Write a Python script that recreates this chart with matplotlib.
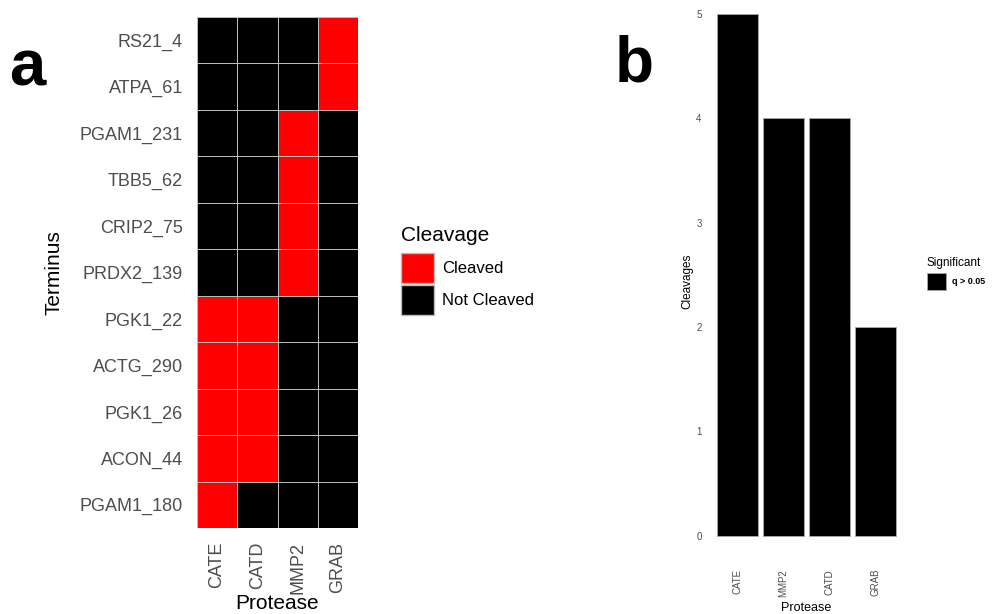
import numpy as np
import matplotlib.pyplot as plt
from matplotlib.colors import ListedColormap
from matplotlib.patches import Patch

plt.rcParams['font.family'] = ['Liberation Sans', 'DejaVu Sans']

# heatmap data (rows top to bottom)
termini = ['RS21_4', 'ATPA_61', 'PGAM1_231', 'TBB5_62', 'CRIP2_75', 'PRDX2_139',
           'PGK1_22', 'ACTG_290', 'PGK1_26', 'ACON_44', 'PGAM1_180']
proteases = ['CATE', 'CATD', 'MMP2', 'GRAB']
cleaved = [
    [0, 0, 0, 1],
    [0, 0, 0, 1],
    [0, 0, 1, 0],
    [0, 0, 1, 0],
    [0, 0, 1, 0],
    [0, 0, 1, 0],
    [1, 1, 0, 0],
    [1, 1, 0, 0],
    [1, 1, 0, 0],
    [1, 1, 0, 0],
    [1, 0, 0, 0],
]

# bar data
bar_proteases = ['CATE', 'MMP2', 'CATD', 'GRAB']
bar_counts = [5, 4, 4, 2]

W, H = 1002, 614
fig = plt.figure(figsize=(W / 100, H / 100), dpi=100)


def box(x0, y0, x1, y1):
    return [x0 / W, 1 - y1 / H, (x1 - x0) / W, (y1 - y0) / H]


grey = '#4D4D4D'

# ---- panel a: heatmap ----
ax = fig.add_axes(box(197, 17, 358, 528))
data = np.array(cleaved)
cmap = ListedColormap(['#000000', '#FF0000'])
ax.pcolormesh(data, cmap=cmap, vmin=0, vmax=1, edgecolors='#BBBBBB', linewidth=0.6)
ax.set_xlim(0, len(proteases))
ax.set_ylim(len(termini), 0)
ax.set_xticks(np.arange(len(proteases)) + 0.5)
ax.set_xticklabels(proteases, rotation=90, fontsize=13, color=grey)
ax.set_yticks(np.arange(len(termini)) + 0.5)
ax.set_yticklabels(termini, fontsize=13, color=grey)
ax.tick_params(length=0, pad=10)
for s in ax.spines.values():
    s.set_visible(False)
ax.set_xlabel('Protease', fontsize=15, labelpad=0)
ax.set_ylabel('Terminus', fontsize=15, labelpad=12)

leg = ax.legend(handles=[Patch(facecolor='#FF0000', edgecolor='#BBBBBB', label='Cleaved'),
                         Patch(facecolor='#000000', edgecolor='#BBBBBB', label='Not Cleaved')],
                title='Cleavage', loc='upper left', bbox_to_anchor=(394 / W, 1 - 219 / H),
                bbox_transform=fig.transFigure, frameon=False, fontsize=12,
                title_fontsize=15, handlelength=2.0, handleheight=2.4,
                labelspacing=0.1, handletextpad=0.5, borderaxespad=0)
leg._legend_box.align = 'left'
leg._legend_box.sep = 6

fig.text(9 / W, 1 - 86 / H, 'a', fontsize=47, fontweight='bold')

# ---- panel b: bar chart ----
bx = fig.add_axes(box(710, 0, 903, 562))
x = np.arange(len(bar_proteases))
bx.bar(x, bar_counts, width=0.9, color='black', edgecolor='#AAAAAA', linewidth=0.6,
       label='q > 0.05')
bx.set_xlim(-0.6, len(bar_proteases) - 0.4)
bx.set_ylim(-0.25, 5.13)
bx.set_xticks(x)
bx.set_xticklabels(bar_proteases, rotation=90, fontsize=7, color=grey)
bx.set_yticks(range(6))
bx.set_yticklabels([str(v) for v in range(6)], fontsize=7, color=grey)
bx.tick_params(length=0, pad=6)
bx.tick_params(axis='x', pad=5)
for s in bx.spines.values():
    s.set_visible(False)
bx.set_xlabel('Protease', fontsize=9, labelpad=4)
bx.set_ylabel('Cleavages', fontsize=8.5, labelpad=2)

leg2 = bx.legend(title='Significant', loc='upper left',
                 bbox_to_anchor=(923 / W, 1 - 253 / H), bbox_transform=fig.transFigure,
                 frameon=False, fontsize=6.5, title_fontsize=8.5, handlelength=2.2,
                 handleheight=2.5, handletextpad=0.6, borderaxespad=0)
leg2._legend_box.align = 'left'
for t in leg2.get_texts():
    t.set_fontweight('bold')

fig.text(615 / W, 1 - 82 / H, 'b', fontsize=46, fontweight='bold')

fig.savefig('out.png', dpi=100)
